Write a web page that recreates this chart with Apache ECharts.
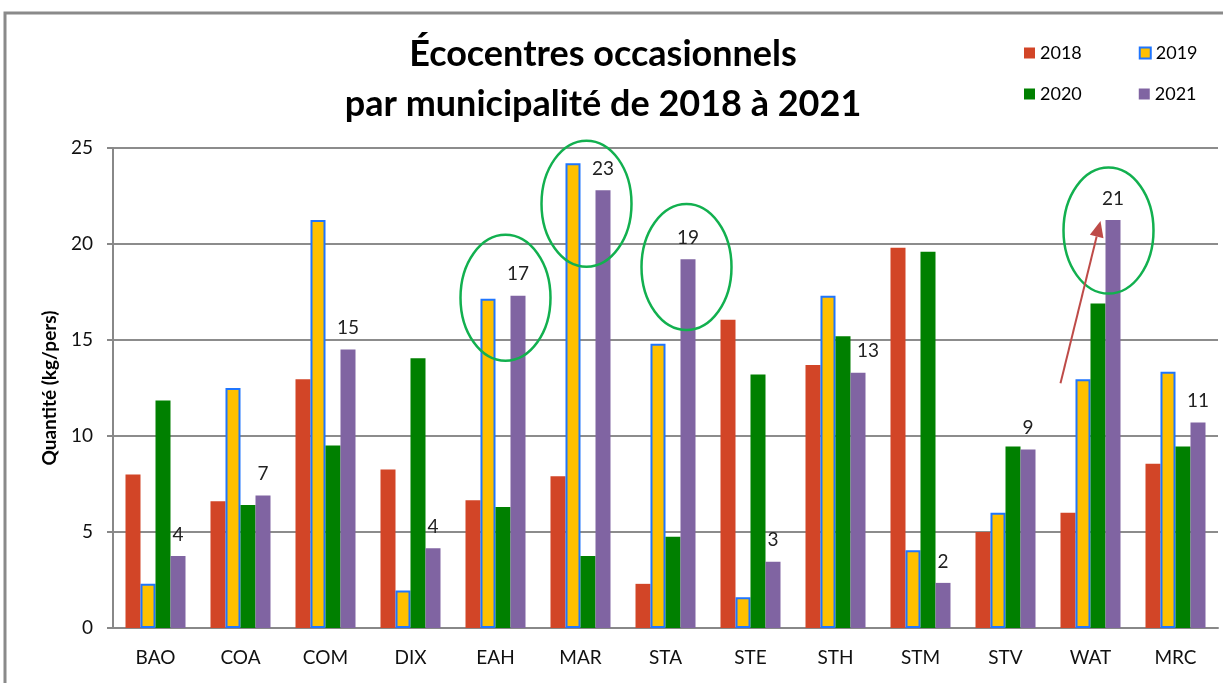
<!DOCTYPE html>
<html>
<head>
<meta charset="utf-8">
<script src="https://cdn.jsdelivr.net/npm/echarts@6/dist/echarts.min.js"></script>
<style>
  html, body { margin: 0; padding: 0; background: #fff; }
  #main { width: 1223px; height: 683px; }
</style>
</head>
<body>
<div id="main"></div>
<script>
// municipalités
const categories = ['BAO', 'COA', 'COM', 'DIX', 'EAH', 'MAR', 'STA', 'STE', 'STH', 'STM', 'STV', 'WAT', 'MRC'];

// kg/pers par année
const data2018 = [8.0, 6.6, 12.95, 8.25, 6.65, 7.9, 2.3, 16.05, 13.7, 19.8, 5.0, 6.0, 8.55];
const data2019 = [2.3, 12.5, 21.25, 1.95, 17.15, 24.2, 14.8, 1.6, 17.3, 4.05, 6.0, 12.95, 13.35];
const data2020 = [11.85, 6.4, 9.5, 14.05, 6.3, 3.75, 4.75, 13.2, 15.2, 19.6, 9.45, 16.9, 9.45];
const data2021 = [3.75, 6.9, 14.5, 4.15, 17.3, 22.8, 19.2, 3.45, 13.3, 2.35, 9.3, 21.25, 10.7];

const yTicks = [0, 5, 10, 15, 20, 25];

// ellipses annotations : [catégorie, valeur du centre, décalage px]
const highlights = [['EAH', 17.2, 10], ['MAR', 22.1, 6], ['STA', 18.8, 21], ['WAT', 20.7, 18]];

const chart = echarts.init(document.getElementById('main'));

const FONT = 'Lato';
const barW = 15;

function barSeries(name, data, color, extra) {
  return Object.assign({
    name: name,
    type: 'bar',
    data: data,
    barWidth: barW,
    barGap: '0%',
    itemStyle: { color: color },
    emphasis: { disabled: true }
  }, extra || {});
}

const legendBase = {
  left: 1019,
  itemWidth: 11,
  itemHeight: 11,
  itemGap: 57,
  icon: 'rect',
  textStyle: { fontFamily: FONT, fontSize: 18, color: '#000' }
};

const option = {
  animation: false,
  backgroundColor: '#fff',
  title: {
    text: 'Écocentres occasionnels\npar municipalité de 2018 à 2021',
    left: 598,
    top: 24,
    textAlign: 'center',
    textStyle: {
      fontFamily: FONT,
      fontWeight: 'bold',
      fontSize: 36,
      lineHeight: 50,
      color: '#000'
    }
  },
  legend: [
    Object.assign({ data: ['2018', '2019'], top: 39 }, legendBase),
    Object.assign({ data: ['2020', '2021'], top: 80 }, legendBase)
  ],
  grid: {
    left: 113,
    right: 5,
    top: 148,
    bottom: 55
  },
  xAxis: {
    type: 'category',
    data: categories,
    axisLine: { lineStyle: { color: '#888', width: 2 } },
    axisTick: { length: 7, lineStyle: { color: '#888', width: 2 } },
    axisLabel: { fontFamily: FONT, fontSize: 19, color: '#111', margin: 20 }
  },
  yAxis: {
    type: 'value',
    min: 0,
    max: yTicks[yTicks.length - 1],
    interval: yTicks[1] - yTicks[0],
    name: 'Quantité (kg/pers)',
    nameLocation: 'middle',
    nameGap: 54,
    nameTextStyle: { fontFamily: FONT, fontSize: 19, fontWeight: 'bold', color: '#000' },
    axisLine: { show: true, lineStyle: { color: '#888', width: 2 } },
    axisTick: { show: true, length: 6, lineStyle: { color: '#888', width: 2 } },
    axisLabel: { fontFamily: FONT, fontSize: 19, color: '#111', margin: 20 },
    splitLine: { lineStyle: { color: '#8c8c8c', width: 2 } }
  },
  series: [
    barSeries('2018', data2018, '#D24527'),
    barSeries('2019', data2019, '#FFC000', {
      itemStyle: { color: '#FFC000', borderColor: '#1F75FE', borderWidth: 2 }
    }),
    barSeries('2020', data2020, '#008000'),
    barSeries('2021', data2021.map((v, i) => categories[i] === 'STH'
      ? { value: v, label: { offset: [10, 0] } } : v), '#8064A2', {
      label: {
        show: true,
        position: 'top',
        distance: 12,
        fontFamily: FONT,
        fontSize: 19,
        color: '#222',
        formatter: p => Math.round(p.value)
      }
    })
  ]
};

chart.setOption(option);

// annotations : cadre, ellipses vertes, flèche
const graphics = [{
  type: 'rect',
  shape: { x: 5, y: 13, width: 1300, height: 720 },
  style: { fill: 'none', stroke: '#8a8a8a', lineWidth: 3 },
  silent: true
}];

highlights.forEach(h => {
  const p = chart.convertToPixel({ gridIndex: 0 }, [h[0], h[1]]);
  graphics.push({
    type: 'ellipse',
    shape: { cx: p[0] + h[2], cy: p[1], rx: 45, ry: 63 },
    style: { fill: 'none', stroke: '#12B04F', lineWidth: 2.5 },
    silent: true,
    z: 10
  });
});

const a0 = chart.convertToPixel({ gridIndex: 0 }, ['WAT', 12.75]);
const a1 = chart.convertToPixel({ gridIndex: 0 }, ['WAT', 21.2]);
const x0 = a0[0] - 30, y0 = a0[1];
const x1 = a1[0] + 10, y1 = a1[1];
const ang = Math.atan2(y1 - y0, x1 - x0);
const hl = 16, hw = 7;
const bx = x1 - hl * Math.cos(ang), by = y1 - hl * Math.sin(ang);
graphics.push({
  type: 'line',
  shape: { x1: x0, y1: y0, x2: bx, y2: by },
  style: { stroke: '#BE4B48', lineWidth: 2 },
  silent: true,
  z: 10
});
graphics.push({
  type: 'polygon',
  shape: {
    points: [
      [x1, y1],
      [bx + hw * Math.sin(ang), by - hw * Math.cos(ang)],
      [bx - hw * Math.sin(ang), by + hw * Math.cos(ang)]
    ]
  },
  style: { fill: '#BE4B48' },
  silent: true,
  z: 10
});

chart.setOption({ graphic: graphics });
</script>
</body>
</html>
